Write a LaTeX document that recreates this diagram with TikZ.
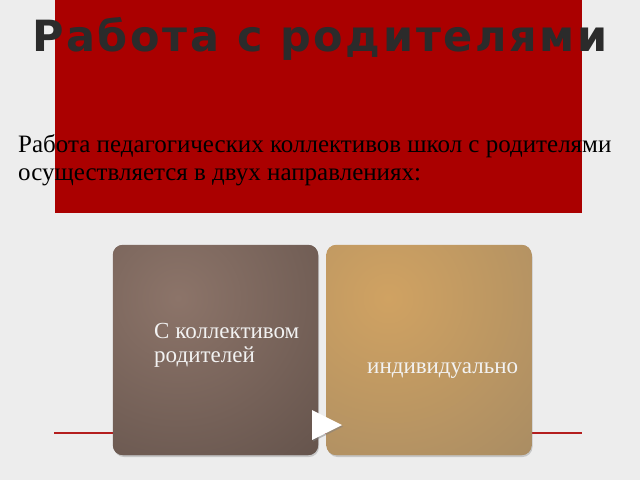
\documentclass[tikz,border=0pt]{standalone}
\usepackage{fontspec}
\setmainfont{Liberation Serif}
\newfontfamily\titlefont[LetterSpace=6.2]{DejaVu Sans}
\usetikzlibrary{shadows}
\definecolor{bg}{HTML}{EDEDED}
\definecolor{redbox}{HTML}{AA0000}
\definecolor{titlegray}{HTML}{2B2B2B}
\definecolor{lineRed}{HTML}{B41E1E}
\definecolor{brownIn}{HTML}{8C7469}
\definecolor{brownOut}{HTML}{5E4E47}
\definecolor{goldIn}{HTML}{D0A262}
\definecolor{goldOut}{HTML}{A38963}
\definecolor{boxtext}{HTML}{F2F2F2}
\tikzset{
  card/.style={rounded corners=10pt, minimum width=205pt, minimum height=210pt,
    inner sep=0pt, drop shadow={shadow xshift=1pt, shadow yshift=-2pt, opacity=0.35}},
  cardtext/.style={text=boxtext, font=\fontsize{23}{25}\selectfont, inner sep=0pt, anchor=base west},
  bodytext/.style={anchor=base west, inner sep=0pt, font=\fontsize{25}{28}\selectfont, text=black},
}
\begin{document}
\begin{tikzpicture}[x=1pt,y=-1pt]
\useasboundingbox (0,0) rectangle (640,480);
\fill[bg] (0,0) rectangle (640,480);
\fill[redbox] (55,0) rectangle (582,213);
\node[text=titlegray, font=\titlefont\bfseries\fontsize{43}{47}\selectfont, anchor=base, inner sep=0pt] (title) at (320,51) {Работа с родителями};
\node[bodytext] (body1) at (18,152) {Работа педагогических коллективов школ с родителями};
\node[bodytext] (body2) at (18,180) {осуществляется в двух направлениях:};
\draw[lineRed, line width=2pt] (54,433) coordinate (l0) -- (582,433) coordinate (l1);
\node[card, fill=brownOut] (left) at (215.5,350) {};
\node[card, fill=goldOut] (right) at (429,350) {};
\begin{scope}
  \clip[rounded corners=10pt] (left.north west) rectangle (left.south east);
  \shade[inner color=brownIn, outer color=brownOut] (178,298) circle (250pt);
\end{scope}
\begin{scope}
  \clip[rounded corners=10pt] (right.north west) rectangle (right.south east);
  \shade[inner color=goldIn, outer color=goldOut] (388,298) circle (250pt);
\end{scope}
\node[cardtext] (lt1) at (154,338) {С коллективом};
\node[cardtext] (lt2) at (154,362) {родителей};
\node[cardtext] (rt) at (367,373) {индивидуально};
\coordinate (a1) at (312,410);
\coordinate (a2) at (342,425);
\coordinate (a3) at (312,440);
\fill[white, drop shadow={shadow xshift=1pt, shadow yshift=-1.5pt, opacity=0.5}] (a1) -- (a2) -- (a3) -- cycle;
\end{tikzpicture}
\end{document}
